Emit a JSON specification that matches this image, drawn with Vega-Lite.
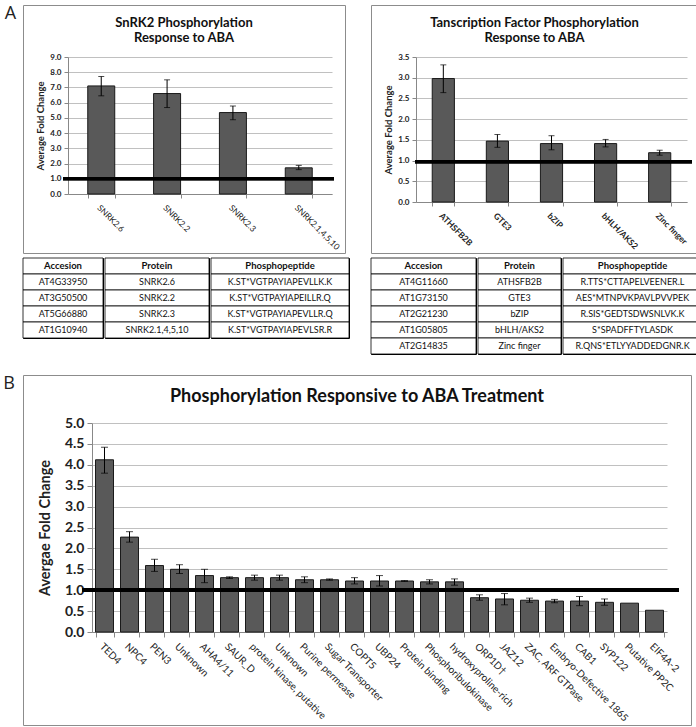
{
 "$schema": "https://vega.github.io/schema/vega-lite/v6.json",
 "background": "white",
 "padding": {"left": 3, "top": 4, "right": 0, "bottom": 0},
 "config": {
   "font": "Lato",
   "view": {"stroke": "#8c8c8c", "strokeWidth": 1},
   "concat": {"spacing": 0}
 },
 "datasets": {
   "tableA": [
     {"row": 0, "col": "Accesion", "text": "Accesion"},
     {"row": 1, "col": "Accesion", "text": "AT4G33950"},
     {"row": 2, "col": "Accesion", "text": "AT3G50500"},
     {"row": 3, "col": "Accesion", "text": "AT5G66880"},
     {"row": 4, "col": "Accesion", "text": "AT1G10940"},
     {"row": 0, "col": "Protein", "text": "Protein"},
     {"row": 1, "col": "Protein", "text": "SNRK2.6"},
     {"row": 2, "col": "Protein", "text": "SNRK2.2"},
     {"row": 3, "col": "Protein", "text": "SNRK2.3"},
     {"row": 4, "col": "Protein", "text": "SNRK2.1,4,5,10"},
     {"row": 0, "col": "Phosphopeptide", "text": "Phosphopeptide"},
     {"row": 1, "col": "Phosphopeptide", "text": "K.ST*VGTPAYIAPEVLLK.K"},
     {"row": 2, "col": "Phosphopeptide", "text": "K.ST*VGTPAYIAPEILLR.Q"},
     {"row": 3, "col": "Phosphopeptide", "text": "K.ST*VGTPAYIAPEVLLR.Q"},
     {"row": 4, "col": "Phosphopeptide", "text": "K.ST*VGTPAYIAPEVLSR.R"}
   ],
   "tableB": [
     {"row": 0, "col": "Accesion", "text": "Accesion"},
     {"row": 1, "col": "Accesion", "text": "AT4G11660"},
     {"row": 2, "col": "Accesion", "text": "AT1G73150"},
     {"row": 3, "col": "Accesion", "text": "AT2G21230"},
     {"row": 4, "col": "Accesion", "text": "AT1G05805"},
     {"row": 5, "col": "Accesion", "text": "AT2G14835"},
     {"row": 0, "col": "Protein", "text": "Protein"},
     {"row": 1, "col": "Protein", "text": "ATHSFB2B"},
     {"row": 2, "col": "Protein", "text": "GTE3"},
     {"row": 3, "col": "Protein", "text": "bZIP"},
     {"row": 4, "col": "Protein", "text": "bHLH/AKS2"},
     {"row": 5, "col": "Protein", "text": "Zinc finger"},
     {"row": 0, "col": "Phosphopeptide", "text": "Phosphopeptide"},
     {"row": 1, "col": "Phosphopeptide", "text": "R.TTS*CTTAPELVEENER.L"},
     {"row": 2, "col": "Phosphopeptide", "text": "AES*MTNPVKPAVLPVVPEK"},
     {"row": 3, "col": "Phosphopeptide", "text": "R.SIS*GEDTSDWSNLVK.K"},
     {"row": 4, "col": "Phosphopeptide", "text": "S*SPADFFTYLASDK"},
     {"row": 5, "col": "Phosphopeptide", "text": "R.QNS*ETLYYADDEDGNR.K"}
   ]
 },
 "spacing": 19,
 "vconcat": [
   {
     "title": {"text": "A", "orient": "left", "angle": 0, "anchor": "end", "fontSize": 18, "fontWeight": "normal", "font": "Open Sans", "color": "#222", "offset": -11, "baseline": "top", "align": "right"},
     "spacing": 14,
     "hconcat": [
       {
         "spacing": 3,
         "vconcat": [
           {
             "width": 322, "height": 248,
             "title": {"text": ["SnRK2 Phosphorylation", "Response to ABA"], "fontSize": 13, "fontWeight": "bold", "color": "#111", "offset": -40, "frame": "group", "anchor": "middle", "lineHeight": 15},
             "data": {"values": [
               {"name": "SNRK2.6", "value": 7.1, "lo": 6.45, "hi": 7.72},
               {"name": "SNRK2.2", "value": 6.6, "lo": 5.68, "hi": 7.5},
               {"name": "SNRK2.3", "value": 5.35, "lo": 4.88, "hi": 5.78},
               {"name": "SNRK2.1,4,5,10", "value": 1.72, "lo": 1.6, "hi": 1.88}
             ]},
             "resolve": {"scale": {"x": "independent"}},
             "layer": [
               {
                 "encoding": {"x": {"field": "name", "type": "nominal", "sort": null,
                   "scale": {"range": [45, 309], "paddingInner": 0.59, "paddingOuter": 0.3},
                   "axis": {"title": null, "offset": -59, "labelAngle": 45, "labelAlign": "left", "labelBaseline": "top", "tickBand": "extent", "domainColor": "#888", "tickColor": "#888", "tickSize": 4, "labelFontSize": 8.5, "labelColor": "#222", "labelPadding": 5, "grid": false}}},
                 "layer": [
                   {"mark": {"type": "bar", "fill": "#595959", "stroke": "#1a1a1a", "strokeWidth": 1},
                    "encoding": {"y": {"field": "value", "type": "quantitative", "title": "Average Fold Change",
                      "scale": {"domain": [0, 9], "range": [189, 52], "nice": false},
                      "axis": {"offset": -45, "format": ".1f", "values": [0, 1, 2, 3, 4, 5, 6, 7, 8, 9], "labelOverlap": false, "labelFontWeight": "bold", "labelFontSize": 8, "labelColor": "#222", "titleFontSize": 9.5, "titleFontWeight": "bold", "titleColor": "#222", "domainColor": "#888", "tickColor": "#888", "tickSize": 4, "gridColor": "#c0c0c0", "grid": true, "titlePadding": 4, "labelPadding": 3}}}},
                   {"mark": {"type": "rule", "color": "black", "strokeWidth": 1},
                    "encoding": {"y": {"field": "lo", "type": "quantitative", "title": "Average Fold Change",
                      "axis": {"offset": -45, "format": ".1f", "values": [0, 1, 2, 3, 4, 5, 6, 7, 8, 9], "labelOverlap": false, "labelFontWeight": "bold", "labelFontSize": 8, "labelColor": "#222", "titleFontSize": 9.5, "titleFontWeight": "bold", "titleColor": "#222", "domainColor": "#888", "tickColor": "#888", "tickSize": 4, "gridColor": "#c0c0c0", "grid": true, "titlePadding": 4, "labelPadding": 3}}, "y2": {"field": "hi"}}},
                   {"mark": {"type": "tick", "color": "black", "size": 6, "thickness": 1},
                    "encoding": {"y": {"field": "lo", "type": "quantitative", "title": "Average Fold Change",
                      "axis": {"offset": -45, "format": ".1f", "values": [0, 1, 2, 3, 4, 5, 6, 7, 8, 9], "labelOverlap": false, "labelFontWeight": "bold", "labelFontSize": 8, "labelColor": "#222", "titleFontSize": 9.5, "titleFontWeight": "bold", "titleColor": "#222", "domainColor": "#888", "tickColor": "#888", "tickSize": 4, "gridColor": "#c0c0c0", "grid": true, "titlePadding": 4, "labelPadding": 3}}}},
                   {"mark": {"type": "tick", "color": "black", "size": 6, "thickness": 1},
                    "encoding": {"y": {"field": "hi", "type": "quantitative", "title": "Average Fold Change",
                      "axis": {"offset": -45, "format": ".1f", "values": [0, 1, 2, 3, 4, 5, 6, 7, 8, 9], "labelOverlap": false, "labelFontWeight": "bold", "labelFontSize": 8, "labelColor": "#222", "titleFontSize": 9.5, "titleFontWeight": "bold", "titleColor": "#222", "domainColor": "#888", "tickColor": "#888", "tickSize": 4, "gridColor": "#c0c0c0", "grid": true, "titlePadding": 4, "labelPadding": 3}}}}
                 ]
               },
               {
                 "mark": {"type": "rule", "color": "black", "strokeWidth": 3},
                 "encoding": {
                   "x": {"datum": 0, "type": "quantitative", "scale": {"domain": [0, 1], "range": [40, 311]}, "axis": null},
                   "x2": {"datum": 1},
                   "y": {"datum": 1, "type": "quantitative", "title": "Average Fold Change",
                      "axis": {"offset": -45, "format": ".1f", "values": [0, 1, 2, 3, 4, 5, 6, 7, 8, 9], "labelOverlap": false, "labelFontWeight": "bold", "labelFontSize": 8, "labelColor": "#222", "titleFontSize": 9.5, "titleFontWeight": "bold", "titleColor": "#222", "domainColor": "#888", "tickColor": "#888", "tickSize": 4, "gridColor": "#c0c0c0", "grid": true, "titlePadding": 4, "labelPadding": 3}}
                 }
               }
             ]
           },
           {
             "data": {"name": "tableA"},
             "spacing": 0,
             "hconcat": [
               {"width": 80, "height": 80, "view": {"stroke": "black"},
                "transform": [{"filter": "datum.col == 'Accesion'"}],
                "encoding": {"y": {"field": "row", "type": "ordinal", "axis": null, "scale": {"paddingInner": 0, "paddingOuter": 0}}},
                "layer": [
                  {"mark": {"type": "rect", "fill": "white", "stroke": "black", "strokeWidth": 0.8}},
                  {"transform": [{"filter": "datum.row == 0"}], "mark": {"type": "text", "fontWeight": "bold", "fontSize": 9.5, "color": "#111"}, "encoding": {"text": {"field": "text"}}},
                  {"transform": [{"filter": "datum.row > 0"}], "mark": {"type": "text", "fontSize": 9, "color": "#111"}, "encoding": {"text": {"field": "text"}}}
                ]},
               {"width": 104, "height": 80, "view": {"stroke": "black"},
                "transform": [{"filter": "datum.col == 'Protein'"}],
                "encoding": {"y": {"field": "row", "type": "ordinal", "axis": null, "scale": {"paddingInner": 0, "paddingOuter": 0}}},
                "layer": [
                  {"mark": {"type": "rect", "fill": "white", "stroke": "black", "strokeWidth": 0.8}},
                  {"transform": [{"filter": "datum.row == 0"}], "mark": {"type": "text", "fontWeight": "bold", "fontSize": 9.5, "color": "#111"}, "encoding": {"text": {"field": "text"}}},
                  {"transform": [{"filter": "datum.row > 0"}], "mark": {"type": "text", "fontSize": 9, "color": "#111"}, "encoding": {"text": {"field": "text"}}}
                ]},
               {"width": 138, "height": 80, "view": {"stroke": "black"},
                "transform": [{"filter": "datum.col == 'Phosphopeptide'"}],
                "encoding": {"y": {"field": "row", "type": "ordinal", "axis": null, "scale": {"paddingInner": 0, "paddingOuter": 0}}},
                "layer": [
                  {"mark": {"type": "rect", "fill": "white", "stroke": "black", "strokeWidth": 0.8}},
                  {"transform": [{"filter": "datum.row == 0"}], "mark": {"type": "text", "fontWeight": "bold", "fontSize": 9.5, "color": "#111"}, "encoding": {"text": {"field": "text"}}},
                  {"transform": [{"filter": "datum.row > 0"}], "mark": {"type": "text", "fontSize": 9, "color": "#111"}, "encoding": {"text": {"field": "text"}}}
                ]}
             ]
           }
         ]
       },
       {
         "spacing": 3,
         "vconcat": [
           {
             "width": 327, "height": 248,
             "title": {"text": ["Tanscription Factor Phosphorylation", "Response to ABA"], "fontSize": 13, "fontWeight": "bold", "color": "#111", "offset": -40, "frame": "group", "anchor": "middle", "lineHeight": 15},
             "data": {"values": [
               {"name": "ATHSFB2B", "value": 2.98, "lo": 2.64, "hi": 3.31},
               {"name": "GTE3", "value": 1.47, "lo": 1.32, "hi": 1.63},
               {"name": "bZIP", "value": 1.41, "lo": 1.26, "hi": 1.6},
               {"name": "bHLH/AKS2", "value": 1.41, "lo": 1.33, "hi": 1.51},
               {"name": "Zinc finger", "value": 1.19, "lo": 1.13, "hi": 1.25}
             ]},
             "resolve": {"scale": {"x": "independent"}},
             "layer": [
               {
                 "encoding": {"x": {"field": "name", "type": "nominal", "sort": null,
                   "scale": {"range": [45, 316], "paddingInner": 0.59, "paddingOuter": 0.3},
                   "axis": {"title": null, "offset": -51, "labelAngle": 45, "labelAlign": "left", "labelBaseline": "top", "tickBand": "extent", "domainColor": "#888", "tickColor": "#888", "tickSize": 4, "labelFontSize": 8.5, "labelFontWeight": "bold", "labelColor": "#222", "labelPadding": 5, "grid": false}}},
                 "layer": [
                   {"mark": {"type": "bar", "fill": "#595959", "stroke": "#1a1a1a", "strokeWidth": 1},
                    "encoding": {"y": {"field": "value", "type": "quantitative", "title": "Average Fold Change",
                      "scale": {"domain": [0, 3.5], "range": [197, 52], "nice": false},
                      "axis": {"offset": -45, "format": ".1f", "values": [0, 0.5, 1, 1.5, 2, 2.5, 3, 3.5], "labelOverlap": false, "labelFontWeight": "bold", "labelFontSize": 8, "labelColor": "#222", "titleFontSize": 9.5, "titleFontWeight": "bold", "titleColor": "#222", "domainColor": "#888", "tickColor": "#888", "tickSize": 4, "gridColor": "#c0c0c0", "grid": true, "titlePadding": 4, "labelPadding": 3}}}},
                   {"mark": {"type": "rule", "color": "black", "strokeWidth": 1},
                    "encoding": {"y": {"field": "lo", "type": "quantitative", "title": "Average Fold Change",
                      "axis": {"offset": -45, "format": ".1f", "values": [0, 0.5, 1, 1.5, 2, 2.5, 3, 3.5], "labelOverlap": false, "labelFontWeight": "bold", "labelFontSize": 8, "labelColor": "#222", "titleFontSize": 9.5, "titleFontWeight": "bold", "titleColor": "#222", "domainColor": "#888", "tickColor": "#888", "tickSize": 4, "gridColor": "#c0c0c0", "grid": true, "titlePadding": 4, "labelPadding": 3}}, "y2": {"field": "hi"}}},
                   {"mark": {"type": "tick", "color": "black", "size": 6, "thickness": 1},
                    "encoding": {"y": {"field": "lo", "type": "quantitative", "title": "Average Fold Change",
                      "axis": {"offset": -45, "format": ".1f", "values": [0, 0.5, 1, 1.5, 2, 2.5, 3, 3.5], "labelOverlap": false, "labelFontWeight": "bold", "labelFontSize": 8, "labelColor": "#222", "titleFontSize": 9.5, "titleFontWeight": "bold", "titleColor": "#222", "domainColor": "#888", "tickColor": "#888", "tickSize": 4, "gridColor": "#c0c0c0", "grid": true, "titlePadding": 4, "labelPadding": 3}}}},
                   {"mark": {"type": "tick", "color": "black", "size": 6, "thickness": 1},
                    "encoding": {"y": {"field": "hi", "type": "quantitative", "title": "Average Fold Change",
                      "axis": {"offset": -45, "format": ".1f", "values": [0, 0.5, 1, 1.5, 2, 2.5, 3, 3.5], "labelOverlap": false, "labelFontWeight": "bold", "labelFontSize": 8, "labelColor": "#222", "titleFontSize": 9.5, "titleFontWeight": "bold", "titleColor": "#222", "domainColor": "#888", "tickColor": "#888", "tickSize": 4, "gridColor": "#c0c0c0", "grid": true, "titlePadding": 4, "labelPadding": 3}}}}
                 ]
               },
               {
                 "mark": {"type": "rule", "color": "black", "strokeWidth": 3},
                 "encoding": {
                   "x": {"datum": 0, "type": "quantitative", "scale": {"domain": [0, 1], "range": [44, 321]}, "axis": null},
                   "x2": {"datum": 1},
                   "y": {"datum": 0.97, "type": "quantitative", "title": "Average Fold Change",
                      "axis": {"offset": -45, "format": ".1f", "values": [0, 0.5, 1, 1.5, 2, 2.5, 3, 3.5], "labelOverlap": false, "labelFontWeight": "bold", "labelFontSize": 8, "labelColor": "#222", "titleFontSize": 9.5, "titleFontWeight": "bold", "titleColor": "#222", "domainColor": "#888", "tickColor": "#888", "tickSize": 4, "gridColor": "#c0c0c0", "grid": true, "titlePadding": 4, "labelPadding": 3}}
                 }
               }
             ]
           },
           {
             "data": {"name": "tableB"},
             "spacing": 0,
             "hconcat": [
               {"width": 105, "height": 96, "view": {"stroke": "black"},
                "transform": [{"filter": "datum.col == 'Accesion'"}],
                "encoding": {"y": {"field": "row", "type": "ordinal", "axis": null, "scale": {"paddingInner": 0, "paddingOuter": 0}}},
                "layer": [
                  {"mark": {"type": "rect", "fill": "white", "stroke": "black", "strokeWidth": 0.8}},
                  {"transform": [{"filter": "datum.row == 0"}], "mark": {"type": "text", "fontWeight": "bold", "fontSize": 9.5, "color": "#111"}, "encoding": {"text": {"field": "text"}}},
                  {"transform": [{"filter": "datum.row > 0"}], "mark": {"type": "text", "fontSize": 9, "color": "#111"}, "encoding": {"text": {"field": "text"}}}
                ]},
               {"width": 83, "height": 96, "view": {"stroke": "black"},
                "transform": [{"filter": "datum.col == 'Protein'"}],
                "encoding": {"y": {"field": "row", "type": "ordinal", "axis": null, "scale": {"paddingInner": 0, "paddingOuter": 0}}},
                "layer": [
                  {"mark": {"type": "rect", "fill": "white", "stroke": "black", "strokeWidth": 0.8}},
                  {"transform": [{"filter": "datum.row == 0"}], "mark": {"type": "text", "fontWeight": "bold", "fontSize": 9.5, "color": "#111"}, "encoding": {"text": {"field": "text"}}},
                  {"transform": [{"filter": "datum.row > 0"}], "mark": {"type": "text", "fontSize": 9, "color": "#111"}, "encoding": {"text": {"field": "text"}}}
                ]},
               {"width": 139, "height": 96, "view": {"stroke": "black"},
                "transform": [{"filter": "datum.col == 'Phosphopeptide'"}],
                "encoding": {"y": {"field": "row", "type": "ordinal", "axis": null, "scale": {"paddingInner": 0, "paddingOuter": 0}}},
                "layer": [
                  {"mark": {"type": "rect", "fill": "white", "stroke": "black", "strokeWidth": 0.8}},
                  {"transform": [{"filter": "datum.row == 0"}], "mark": {"type": "text", "fontWeight": "bold", "fontSize": 9.5, "color": "#111"}, "encoding": {"text": {"field": "text"}}},
                  {"transform": [{"filter": "datum.row > 0"}], "mark": {"type": "text", "fontSize": 9, "color": "#111"}, "encoding": {"text": {"field": "text"}}}
                ]}
             ]
           }
         ]
       }
     ]
   },
   {
     "title": {"text": "B", "orient": "left", "angle": 0, "anchor": "end", "fontSize": 18, "fontWeight": "normal", "font": "Open Sans", "color": "#222", "offset": -11, "baseline": "top", "align": "right"},
     "vconcat": [
       {
         "width": 668, "height": 350,
         "title": {"text": "Phosphorylation Responsive to ABA Treatment", "fontSize": 18, "fontWeight": "bold", "color": "#111", "offset": -31, "frame": "group", "anchor": "middle"},
         "data": {"values": [
           {"name": "TED4", "value": 4.12, "lo": 3.8, "hi": 4.42},
           {"name": "NPC4", "value": 2.27, "lo": 2.15, "hi": 2.4},
           {"name": "PEN3", "value": 1.59, "lo": 1.45, "hi": 1.74},
           {"name": "Unknown", "value": 1.5, "lo": 1.4, "hi": 1.61},
           {"name": "AHA4/11", "value": 1.35, "lo": 1.18, "hi": 1.5},
           {"name": "SAUR_D", "value": 1.3, "lo": 1.28, "hi": 1.32},
           {"name": "protein kinase, putative", "value": 1.3, "lo": 1.24, "hi": 1.36},
           {"name": "Unknown ", "value": 1.3, "lo": 1.24, "hi": 1.36},
           {"name": "Purine permease", "value": 1.25, "lo": 1.18, "hi": 1.32},
           {"name": "Sugar Transporter", "value": 1.25, "lo": 1.24, "hi": 1.27},
           {"name": "COPT5", "value": 1.22, "lo": 1.15, "hi": 1.3},
           {"name": "UBP24", "value": 1.22, "lo": 1.1, "hi": 1.35},
           {"name": "Protein binding", "value": 1.22, "lo": 1.21, "hi": 1.23},
           {"name": "Phosphoribulokinase", "value": 1.2, "lo": 1.15, "hi": 1.25},
           {"name": "hydroxyproline-rich", "value": 1.2, "lo": 1.12, "hi": 1.27},
           {"name": "ORP1D†", "value": 0.82, "lo": 0.76, "hi": 0.89},
           {"name": "JAZ12", "value": 0.79, "lo": 0.65, "hi": 0.92},
           {"name": "ZAC, ARF GTPase", "value": 0.76, "lo": 0.71, "hi": 0.81},
           {"name": "Embryo-Defective 1865", "value": 0.74, "lo": 0.7, "hi": 0.78},
           {"name": "CAB1", "value": 0.74, "lo": 0.63, "hi": 0.85},
           {"name": "SYP122", "value": 0.71, "lo": 0.64, "hi": 0.79},
           {"name": "Putative PP2C", "value": 0.69, "lo": null, "hi": null},
           {"name": "EIF4A-2", "value": 0.52, "lo": null, "hi": null}
         ]},
         "resolve": {"scale": {"x": "independent"}},
         "layer": [
           {
             "encoding": {"x": {"field": "name", "type": "nominal", "sort": null,
               "scale": {"range": [69, 644], "paddingInner": 0.28, "paddingOuter": 0.14},
               "axis": {"title": null, "offset": -93, "labelAngle": 45, "labelAlign": "left", "labelBaseline": "top", "tickBand": "extent", "domainColor": "#888", "tickColor": "#888", "tickSize": 5, "labelFontSize": 10, "labelColor": "#222", "labelPadding": 4, "grid": false, "labelLimit": 300}}},
             "layer": [
               {"mark": {"type": "bar", "fill": "#595959", "stroke": "#1a1a1a", "strokeWidth": 1},
                "encoding": {"y": {"field": "value", "type": "quantitative", "title": "Avergae Fold Change",
                  "scale": {"domain": [0, 5], "range": [257, 48], "nice": false},
                  "axis": {"offset": -69, "format": ".1f", "values": [0, 0.5, 1, 1.5, 2, 2.5, 3, 3.5, 4, 4.5, 5], "labelOverlap": false, "labelFontWeight": "bold", "labelFontSize": 14, "labelColor": "#222", "titleFontSize": 14.5, "titleFontWeight": "bold", "titleColor": "#222", "domainColor": "#888", "tickColor": "#888", "tickSize": 5, "gridColor": "#c0c0c0", "grid": true, "titlePadding": 12, "labelPadding": 3}}}},
               {"transform": [{"filter": "datum.lo != null"}],
                "mark": {"type": "rule", "color": "black", "strokeWidth": 1},
                "encoding": {"y": {"field": "lo", "type": "quantitative", "title": "Avergae Fold Change",
                  "axis": {"offset": -69, "format": ".1f", "values": [0, 0.5, 1, 1.5, 2, 2.5, 3, 3.5, 4, 4.5, 5], "labelOverlap": false, "labelFontWeight": "bold", "labelFontSize": 14, "labelColor": "#222", "titleFontSize": 14.5, "titleFontWeight": "bold", "titleColor": "#222", "domainColor": "#888", "tickColor": "#888", "tickSize": 5, "gridColor": "#c0c0c0", "grid": true, "titlePadding": 12, "labelPadding": 3}}, "y2": {"field": "hi"}}},
               {"transform": [{"filter": "datum.lo != null"}],
                "mark": {"type": "tick", "color": "black", "size": 7, "thickness": 1},
                "encoding": {"y": {"field": "lo", "type": "quantitative", "title": "Avergae Fold Change",
                  "axis": {"offset": -69, "format": ".1f", "values": [0, 0.5, 1, 1.5, 2, 2.5, 3, 3.5, 4, 4.5, 5], "labelOverlap": false, "labelFontWeight": "bold", "labelFontSize": 14, "labelColor": "#222", "titleFontSize": 14.5, "titleFontWeight": "bold", "titleColor": "#222", "domainColor": "#888", "tickColor": "#888", "tickSize": 5, "gridColor": "#c0c0c0", "grid": true, "titlePadding": 12, "labelPadding": 3}}}},
               {"transform": [{"filter": "datum.lo != null"}],
                "mark": {"type": "tick", "color": "black", "size": 7, "thickness": 1},
                "encoding": {"y": {"field": "hi", "type": "quantitative", "title": "Avergae Fold Change",
                  "axis": {"offset": -69, "format": ".1f", "values": [0, 0.5, 1, 1.5, 2, 2.5, 3, 3.5, 4, 4.5, 5], "labelOverlap": false, "labelFontWeight": "bold", "labelFontSize": 14, "labelColor": "#222", "titleFontSize": 14.5, "titleFontWeight": "bold", "titleColor": "#222", "domainColor": "#888", "tickColor": "#888", "tickSize": 5, "gridColor": "#c0c0c0", "grid": true, "titlePadding": 12, "labelPadding": 3}}}}
             ]
           },
           {
             "mark": {"type": "rule", "color": "black", "strokeWidth": 3},
             "encoding": {
               "x": {"datum": 0, "type": "quantitative", "scale": {"domain": [0, 1], "range": [59, 656]}, "axis": null},
               "x2": {"datum": 1},
               "y": {"datum": 1, "type": "quantitative", "title": "Avergae Fold Change",
                  "axis": {"offset": -69, "format": ".1f", "values": [0, 0.5, 1, 1.5, 2, 2.5, 3, 3.5, 4, 4.5, 5], "labelOverlap": false, "labelFontWeight": "bold", "labelFontSize": 14, "labelColor": "#222", "titleFontSize": 14.5, "titleFontWeight": "bold", "titleColor": "#222", "domainColor": "#888", "tickColor": "#888", "tickSize": 5, "gridColor": "#c0c0c0", "grid": true, "titlePadding": 12, "labelPadding": 3}}
             }
           }
         ]
       }
     ]
   }
 ]
}
